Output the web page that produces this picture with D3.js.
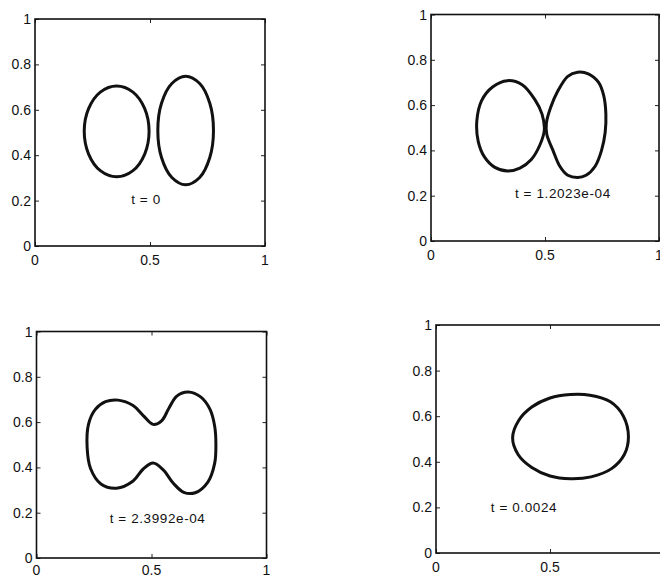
<!DOCTYPE html>
<html>
<head>
<meta charset="utf-8">
<script src="https://cdn.jsdelivr.net/npm/d3@7"></script>
<style>
  html, body { margin: 0; padding: 0; background: #fff; }
  svg { display: block; }
  text { font-family: "Liberation Sans", Arial, Helvetica, sans-serif; fill: #111; }
</style>
</head>
<body>
<svg id="chart" width="660" height="576"></svg>
<script>
// Interface snapshots of two merging drops at four times.
const timeLabels = ["t = 0", "t = 1.2023e-04", "t = 2.3992e-04", "t = 0.0024"];

const xTickValues = [0, 0.5, 1];
const yTickValues = [0, 0.2, 0.4, 0.6, 0.8, 1];

// t = 0: two separate drops
const frame0Left = [
  [0.496, 0.505], [0.477, 0.605], [0.426, 0.678], [0.355, 0.705],
  [0.284, 0.678], [0.233, 0.605], [0.214, 0.505], [0.233, 0.405],
  [0.284, 0.332], [0.355, 0.305], [0.426, 0.332], [0.477, 0.405]
];
const frame0Right = [
  [0.776, 0.509], [0.760, 0.629], [0.716, 0.716], [0.655, 0.748],
  [0.595, 0.716], [0.550, 0.629], [0.534, 0.509], [0.550, 0.390],
  [0.595, 0.302], [0.655, 0.270], [0.716, 0.302], [0.760, 0.390]
];

// t = 1.2023e-04: drops touching at the neck
const frame1Left = [
  [0.497, 0.490], [0.487, 0.560], [0.455, 0.625], [0.400, 0.690],
  [0.335, 0.708], [0.270, 0.680], [0.222, 0.620], [0.201, 0.530],
  [0.207, 0.440], [0.235, 0.370], [0.280, 0.325], [0.336, 0.309],
  [0.390, 0.322], [0.440, 0.360], [0.478, 0.425]
];
const frame1Right = [
  [0.506, 0.520], [0.525, 0.590], [0.555, 0.660], [0.600, 0.727],
  [0.643, 0.745], [0.690, 0.738], [0.735, 0.700], [0.758, 0.640],
  [0.767, 0.560], [0.764, 0.480], [0.748, 0.400], [0.720, 0.330],
  [0.680, 0.290], [0.643, 0.280], [0.600, 0.290], [0.565, 0.330],
  [0.535, 0.400], [0.508, 0.470]
];

// t = 2.3992e-04: a single peanut-shaped drop
const frame2Shape = [
  [0.220, 0.490], [0.226, 0.590], [0.255, 0.655], [0.300, 0.690],
  [0.355, 0.697], [0.420, 0.673], [0.464, 0.629], [0.507, 0.590],
  [0.545, 0.607], [0.575, 0.660], [0.610, 0.715], [0.660, 0.733],
  [0.715, 0.710], [0.755, 0.655], [0.775, 0.580], [0.780, 0.500],
  [0.775, 0.420], [0.745, 0.335], [0.690, 0.288], [0.640, 0.290],
  [0.595, 0.330], [0.550, 0.390], [0.507, 0.419], [0.464, 0.393],
  [0.420, 0.340], [0.348, 0.308], [0.280, 0.327], [0.235, 0.395]
];

// t = 0.0024: relaxed single drop
const frame3Shape = [
  [0.844, 0.510], [0.822, 0.600], [0.765, 0.663], [0.675, 0.692],
  [0.590, 0.695], [0.500, 0.680], [0.420, 0.640], [0.362, 0.580],
  [0.336, 0.505], [0.360, 0.432], [0.420, 0.375], [0.500, 0.338],
  [0.590, 0.326], [0.680, 0.334], [0.770, 0.370], [0.826, 0.432]
];

const frames = [
  { curves: [frame0Left, frame0Right], label: timeLabels[0] },
  { curves: [frame1Left, frame1Right], label: timeLabels[1] },
  { curves: [frame2Shape], label: timeLabels[2] },
  { curves: [frame3Shape], label: timeLabels[3] }
];

// Panel boxes in pixels and where each time label sits (data units)
const layout = [
  { left: 35,  right: 265, top: 19,  bottom: 246, labelAt: [0.418, 0.205] },
  { left: 431, right: 659, top: 14.5, bottom: 241, labelAt: [0.368, 0.214] },
  { left: 36.5, right: 266.5, top: 331.5, bottom: 558, labelAt: [0.318, 0.178] },
  { left: 436, right: 664, top: 325, bottom: 553, labelAt: [0.240, 0.200] }
];

const W = 660, H = 576;
const svg = d3.select("#chart");
const fmt = v => (v === 0 || v === 1) ? String(v) : d3.format(".1f")(v);
const tickLen = 4;

frames.forEach((frame, i) => {
  const L = layout[i];
  const x = d3.scaleLinear().domain([0, 1]).range([L.left, L.right]);
  const y = d3.scaleLinear().domain([0, 1]).range([L.bottom, L.top]);
  const g = svg.append("g");

  // inward ticks on all four sides
  const xAxisB = d3.axisBottom(x).tickValues(xTickValues).tickSize(-tickLen).tickFormat("");
  const xAxisT = d3.axisTop(x).tickValues(xTickValues).tickSize(-tickLen).tickFormat("");
  const yAxisL = d3.axisLeft(y).tickValues(yTickValues).tickSize(-tickLen).tickFormat("");
  const yAxisR = d3.axisRight(y).tickValues(yTickValues).tickSize(-tickLen).tickFormat("");
  [[xAxisB, `translate(0,${L.bottom})`], [xAxisT, `translate(0,${L.top})`],
   [yAxisL, `translate(${L.left},0)`], [yAxisR, `translate(${L.right},0)`]]
    .forEach(([ax, tr]) => {
      const a = g.append("g").attr("transform", tr).call(ax);
      a.select(".domain").remove();
      a.selectAll("line").attr("stroke", "#222").attr("stroke-width", 1);
    });

  // frame box
  g.append("rect")
    .attr("x", L.left).attr("y", L.top)
    .attr("width", L.right - L.left).attr("height", L.bottom - L.top)
    .attr("fill", "none").attr("stroke", "#111").attr("stroke-width", 1.6);

  // tick labels (bottom row kept inside the page)
  g.selectAll(".xl").data(xTickValues).join("text")
    .attr("x", d => x(d)).attr("y", Math.min(L.bottom + 19, H - 1))
    .attr("text-anchor", "middle").attr("font-size", 14)
    .text(fmt);
  g.selectAll(".yl").data(yTickValues).join("text")
    .attr("x", L.left - 4).attr("y", d => y(d) + 5)
    .attr("text-anchor", "end").attr("font-size", 14)
    .text(fmt);

  // interface curves
  const line = d3.line()
    .x(d => x(d[0])).y(d => y(d[1]))
    .curve(d3.curveCatmullRomClosed.alpha(0.5));
  g.selectAll(".curve").data(frame.curves).join("path")
    .attr("d", line)
    .attr("fill", "none").attr("stroke", "#111")
    .attr("stroke-width", 3).attr("stroke-linejoin", "round");

  // time label
  g.append("text")
    .attr("x", x(L.labelAt[0])).attr("y", y(L.labelAt[1]) + 5)
    .attr("font-size", 13.5).attr("letter-spacing", 0.6)
    .text(frame.label);
});
</script>
</body>
</html>
